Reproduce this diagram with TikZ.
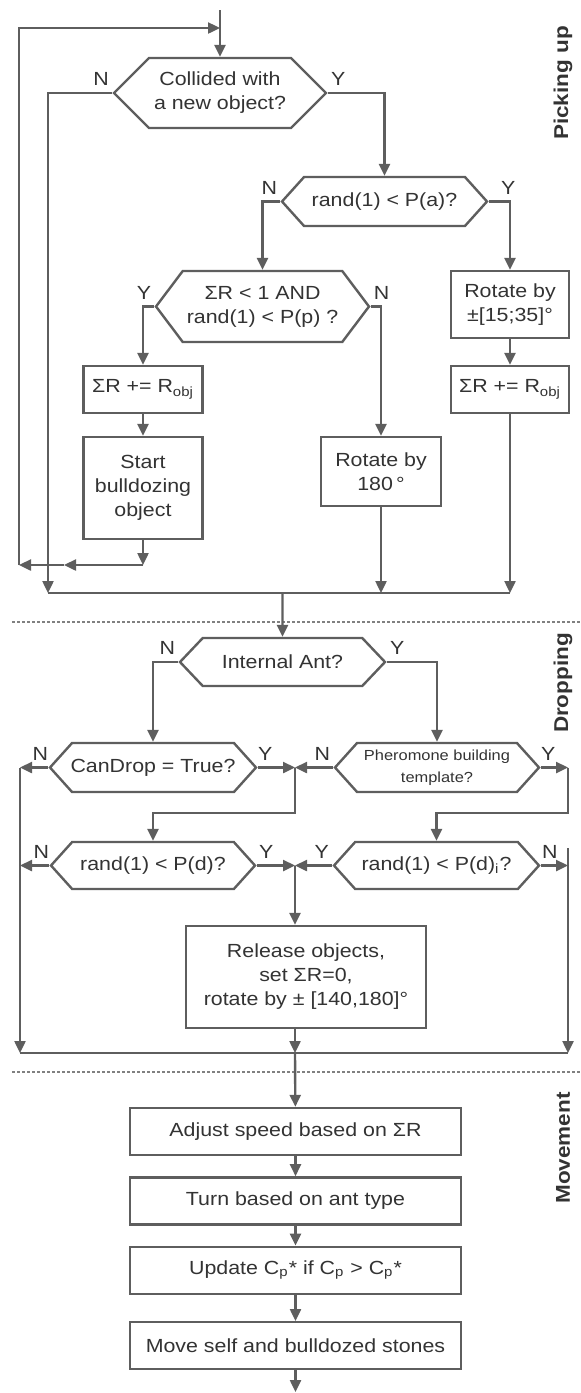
\documentclass[tikz,border=0pt]{standalone}
\usepackage{fontspec}
\setmainfont{Liberation Sans}[FakeStretch=1.125]
\usetikzlibrary{arrows.meta}
\usetikzlibrary{positioning}
\usetikzlibrary{shapes.symbols}
\definecolor{linegray}{HTML}{5E5E5E}
\definecolor{textgray}{HTML}{333333}
\tikzset{
    every node/.style = {text = textgray, font = \fontsize{9.5}{12}\selectfont},
    wire/.style = {draw = linegray, line width = 1.2pt},
    flow/.style = {wire, -{Triangle[length = 6pt, width = 5.5pt]}},
    proc/.style = {wire, rectangle, fill = white, align = center, inner sep = 1pt},
    decide/.style = {wire, signal, signal to = east and west, signal pointer angle = 96,
        fill = white, align = center, inner ysep = 1pt, inner xsep = 0pt},
    yn/.style = {inner sep = 0pt},
    phase/.style = {rotate = 90, font = \fontsize{10}{12}\selectfont\bfseries},
    divider/.style = {draw = gray, line width = 0.7pt, dash pattern = on 1.5pt off 1pt}
}

\begin{document}
\begin{tikzpicture}[x = 0.5pt, y = -0.5pt]
    \useasboundingbox (0,0) rectangle (581,1393);
    % picking up
    \node [decide, signal pointer angle = 90, minimum width = 106pt, minimum height = 35pt] (col) at (220,93) {Collided with\\a new object?};
    \node [decide, minimum width = 102.5pt, minimum height = 24.5pt] (pa) at (384.5,201.5) {rand(1) < P(a)?};
    \node [decide, signal pointer angle = 106, minimum width = 106.5pt, minimum height = 35.5pt] (sr) at (262.5,306.5) {ΣR < 1 AND\\rand(1) < P(p) ?};
    \node [proc, minimum width = 59pt, minimum height = 33.5pt] (rot1) at (510,304.5) {Rotate by\\±[15;35]°};
    \node [proc, minimum width = 59pt, minimum height = 23.5pt] (sum2) at (510,389.5) {ΣR += R\textsubscript{obj}};
    \node [proc, minimum width = 59.5pt, minimum height = 23.5pt] (sum1) at (143,389.5) {ΣR += R\textsubscript{obj}};
    \node [proc, minimum width = 59.5pt, minimum height = 51pt] (bull) at (143,488) {Start\\bulldozing\\object};
    \node [proc, minimum width = 60pt, minimum height = 34.5pt] (rot2) at (381,471.5) {Rotate by\\180\,°};
    \node [yn, above left = 3.5pt and 1.5pt of col.west] (coln) {N};
    \node [yn, above right = 3.5pt and 1.5pt of col.east] (coly) {Y};
    \node [yn, above left = 3.5pt and 1.5pt of pa.west] (pan) {N};
    \node [yn, above right = 3.5pt and 6pt of pa.east] (pay) {Y};
    \node [yn, above left = 3.5pt and 1.5pt of sr.west] (sry) {Y};
    \node [yn, above right = 3.5pt and 1.5pt of sr.east] (srn) {N};
    \node [phase] (pick) at (563,83) {Picking up};
    \coordinate (top) at (220,10);
    \coordinate (back) at (220,28);
    \coordinate (c0) at (19,28);
    \coordinate (b0) at (143,565);
    \coordinate (b1) at (64,565);
    \coordinate (b2) at (19,565);
    \coordinate (m0) at (48,593);
    \coordinate (m1) at (282.5,593);
    \coordinate (m2) at (381,593);
    \coordinate (m3) at (510,593);
    % paths
    \draw [flow] (top) -- (col.north);
    \draw [flow] (col.west) -| (m0);
    \draw [flow] (col.east) -| (pa.north);
    \draw [flow] (pa.west) -| (sr.north);
    \draw [flow] (pa.east) -| (rot1.north);
    \draw [flow] (sr.west) -| (sum1.north);
    \draw [flow] (sr.east) -| (rot2.north);
    \draw [flow] (rot1) -- (sum2);
    \draw [flow] (sum1) -- (bull);
    \draw [flow] (bull) -- (b0);
    \draw [flow] (b0) -- (b1);
    \draw [flow] (b1) -- (b2);
    \draw [flow] (b2) -- (c0) -- (back);
    \draw [flow] (rot2) -- (m2);
    \draw [flow] (sum2) -- (m3);
    \draw [wire] (m0) -- (m3);
    \draw [divider] (12,622) -- (581,622);
    % dropping
    \node [decide, signal pointer angle = 93, minimum width = 102.5pt, minimum height = 24pt] (ant) at (282.5,662) {Internal Ant?};
    \node [decide, inner xsep = -1.2pt, minimum width = 103pt, minimum height = 24.5pt] (cd) at (153,767.5) {CanDrop = True?};
    \node [decide, minimum width = 102pt, minimum height = 24.5pt, font = \fontsize{7.3}{11}\selectfont] (ph) at (437,767.5) {Pheromone building\\template?};
    \node [decide, minimum width = 102pt, minimum height = 23.5pt] (rd) at (153,865.5) {rand(1) < P(d)?};
    \node [decide, minimum width = 102.5pt, minimum height = 23.5pt] (rdi) at (436.5,865.5) {rand(1) < P(d)\textsubscript{i}?};
    \node [proc, minimum width = 120pt, minimum height = 51pt] (rel) at (306,977) {Release objects,\\set ΣR=0,\\rotate by ± [140,180]°};
    \node [yn, above left = 3.5pt and 1.5pt of ant.west] (antn) {N};
    \node [yn, above right = 3.5pt and 1.5pt of ant.east] (anty) {Y};
    \node [yn, above left = 3.5pt and 0pt of cd.west] (cdn) {N};
    \node [yn, above right = 3.5pt and 0pt of cd.east] (cdy) {Y};
    \node [yn, above left = 3.5pt and 1.5pt of ph.west] (phn) {N};
    \node [yn, above right = 3.5pt and 0pt of ph.east] (phy) {Y};
    \node [yn, above left = 3.5pt and 0pt of rd.west] (rdn) {N};
    \node [yn, above right = 3.5pt and 1pt of rd.east] (rdy) {Y};
    \node [yn, above left = 3.5pt and 1.5pt of rdi.west] (rdiy) {Y};
    \node [yn, above right = 3.5pt and 0.5pt of rdi.east] (rdin) {N};
    \node [phase] (drop) at (563,683) {Dropping};
    \coordinate (j1) at (295,767.5);
    \coordinate (j2) at (295,865.5);
    \coordinate (k1) at (295,813);
    \coordinate (k2) at (568,813);
    \coordinate (l1) at (20,767.5);
    \coordinate (l2) at (20,865.5);
    \coordinate (r1) at (568,767.5);
    \coordinate (r2) at (568,865.5);
    \coordinate (r3) at (568,848);
    \coordinate (n0) at (20,1053);
    \coordinate (n1) at (295,1053);
    \coordinate (n2) at (568,1053);
    % paths
    \draw [flow] (m1) -- (ant);
    \draw [flow] (ant.west) -| (cd.north);
    \draw [flow] (ant.east) -| (ph.north);
    \draw [flow] (cd.west) -- (l1);
    \draw [flow] (cd.east) -- (j1);
    \draw [flow] (ph.west) -- (j1);
    \draw [flow] (ph.east) -- (r1);
    \draw [flow] (j1) -- (k1) -| (rd.north);
    \draw [flow] (r1) -- (k2) -| (rdi.north);
    \draw [flow] (rd.west) -- (l2);
    \draw [flow] (rd.east) -- (j2);
    \draw [flow] (rdi.west) -- (j2);
    \draw [flow] (rdi.east) -- (r2);
    \draw [flow] (j2) -- (j2 |- rel.north);
    \draw [flow] (l1) -- (n0);
    \draw [flow] (r3) -- (n2);
    \draw [flow] (rel.south -| n1) -- (n1);
    \draw [wire] (n0) -- (n2);
    \draw [divider] (12,1072) -- (581,1072);
    % movement
    \node [proc, minimum width = 165.5pt, minimum height = 23.5pt] (adj) at (295.5,1131.5) {Adjust speed based on ΣR};
    \node [proc, minimum width = 165.5pt, minimum height = 23.5pt, below = 10pt of adj] (turn) {Turn based on ant type};
    \node [proc, minimum width = 165.5pt, minimum height = 23.5pt, below = 10pt of turn] (upd) {Update C\textsubscript{p}* if C\textsubscript{p} > C\textsubscript{p}*};
    \node [proc, minimum width = 165.5pt, minimum height = 23.5pt, below = 13pt of upd] (mov) {Move self and bulldozed stones};
    \node [phase] (move) at (563,1148) {Movement};
    \coordinate (out) at (295.5,1392);
    % paths
    \draw [flow] (n1) -- (adj);
    \draw [flow] (adj) -- (turn);
    \draw [flow] (turn) -- (upd);
    \draw [flow] (upd) -- (mov);
    \draw [flow] (mov) -- (out);
\end{tikzpicture}
\end{document}
